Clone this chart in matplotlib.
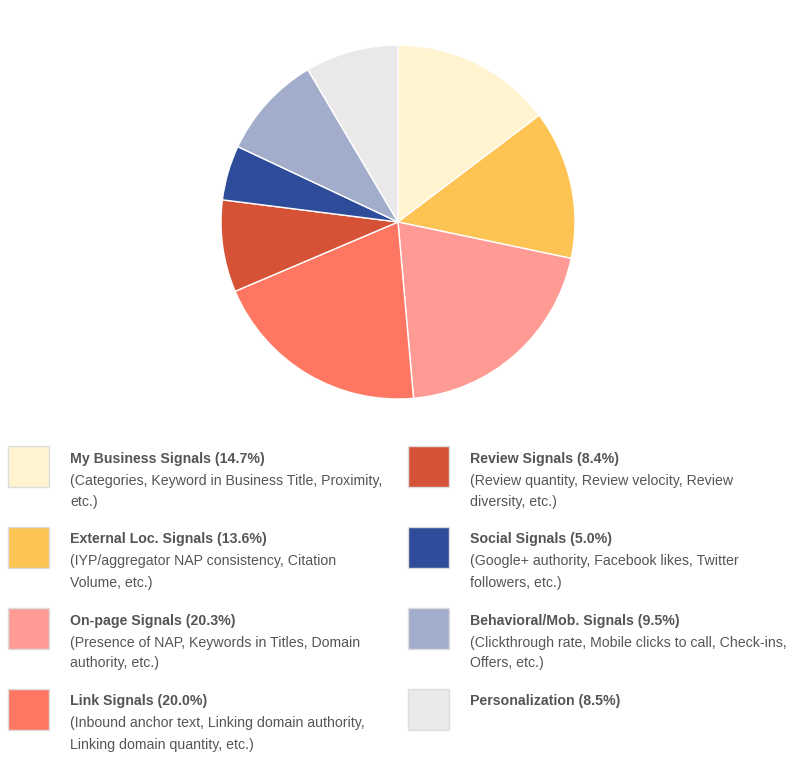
import matplotlib
matplotlib.use("Agg")
import matplotlib.pyplot as plt
from matplotlib.patches import Rectangle

labels = ["My Business Signals", "External Loc. Signals", "On-page Signals", "Link Signals",
          "Review Signals", "Social Signals", "Behavioral/Mob. Signals", "Personalization"]
values = [14.7, 13.6, 20.3, 20.0, 8.4, 5.0, 9.5, 8.5]
descriptions = [
    "(Categories, Keyword in Business Title, Proximity,\netc.)",
    "(IYP/aggregator NAP consistency, Citation\nVolume, etc.)",
    "(Presence of NAP, Keywords in Titles, Domain\nauthority, etc.)",
    "(Inbound anchor text, Linking domain authority,\nLinking domain quantity, etc.)",
    "(Review quantity, Review velocity, Review\ndiversity, etc.)",
    "(Google+ authority, Facebook likes, Twitter\nfollowers, etc.)",
    "(Clickthrough rate, Mobile clicks to call, Check-ins,\nOffers, etc.)",
    "",
]
colors = ["#FFF3D0", "#FDC453", "#FF9A94", "#FF7662", "#D65236", "#2F4C9A", "#A2ADCC", "#EBE8E9"]

W, H = 802, 780
fig = plt.figure(figsize=(W / 100, H / 100), dpi=100)
plt.rcParams['font.family'] = ['Liberation Sans', 'DejaVu Sans']

cx, cy, r = 398, 222, 177
ax = fig.add_axes([(cx - r) / W, 1 - (cy + r) / H, 2 * r / W, 2 * r / H])
ax.pie(values, colors=colors, startangle=90, counterclock=False,
       wedgeprops=dict(edgecolor="white", linewidth=1))
ax.set_aspect("equal")
ax.set_xlim(-1, 1)
ax.set_ylim(-1, 1)
ax.axis("off")

tc = "#555555"
fs = 10.2
for i, (lab, val, desc, col) in enumerate(zip(labels, values, descriptions, colors)):
    colx = i // 4
    row = i % 4
    sx = 8 + 400 * colx
    sy = 446 + 81 * row
    fig.patches.append(Rectangle((sx / W, 1 - (sy + 41) / H), 41 / W, 41 / H,
                                 transform=fig.transFigure, facecolor=col,
                                 edgecolor="#dddddd", linewidth=1))
    tx = 70 + 400 * colx
    fig.text(tx / W, 1 - (sy + 12.5) / H, f"{lab} ({val:.1f}%)", fontsize=fs,
             fontweight="bold", color=tc, va="center", ha="left")
    for j, line in enumerate(desc.split("\n")):
        if line:
            fig.text(tx / W, 1 - (sy + 34.5 + 21 * j) / H, line, fontsize=fs,
                     color=tc, va="center", ha="left")

fig.savefig("out.png", dpi=100, facecolor="white")
